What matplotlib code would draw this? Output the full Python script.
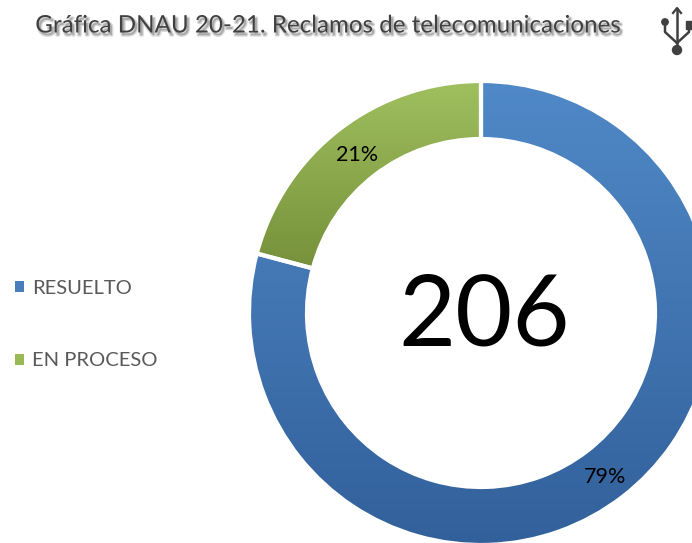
import numpy as np
import matplotlib
matplotlib.use("Agg")
from matplotlib import pyplot as plt
from matplotlib import patheffects as pe
from matplotlib.colors import LinearSegmentedColormap
from matplotlib.patches import Patch, Circle, Rectangle

title = "Gráfica DNAU 20-21. Reclamos de telecomunicaciones"
categories = ["RESUELTO", "EN PROCESO"]
counts = [163, 43]
total_label = "206"

colors_top = ["#5089c8", "#a0c05f"]
colors_bottom = ["#32609a", "#76913a"]
colors_legend = ["#4a7ebb", "#98b954"]

W, H = 692, 543
fig = plt.figure(figsize=(W / 100, H / 100), dpi=100)
ax = fig.add_axes([0, 0, 1, 1])


def yy(y):
    # pixel rows of the picture, counted from the top
    return H - y


wedges, _, autotexts = ax.pie(
    counts, center=(481, yy(313)), radius=232, startangle=90, counterclock=False,
    autopct="%1.0f%%", pctdistance=0.875,
    wedgeprops=dict(width=58, edgecolor="white", linewidth=3),
    textprops=dict(family="Lato", fontsize=15.5, color="black"))

# vertical gradient inside each wedge
for wedge, c0, c1 in zip(wedges, colors_top, colors_bottom):
    box = wedge.get_path().get_extents()
    cmap = LinearSegmentedColormap.from_list("grad", [c1, c0])
    im = ax.imshow(np.linspace(0, 1, 256)[:, None], cmap=cmap, origin="lower",
                   aspect="auto", zorder=1,
                   extent=(box.x0, box.x1, box.y0, box.y1))
    im.set_clip_path(wedge.get_path(), wedge.get_transform())
    wedge.set_facecolor("none")
    wedge.set_zorder(2)
for t in autotexts:
    t.set_zorder(3)
    px, py = t.get_position()
    t.set_position((px, py - 3))

ax.set_xlim(0, W)
ax.set_ylim(0, H)
ax.set_aspect("auto")
ax.axis("off")

ax.text(484, yy(318), total_label, ha="center", va="center", fontsize=71,
        family="Lato", color="black", zorder=4)

shadow = [pe.Stroke(linewidth=2, foreground="#aaaaaa", alpha=0.45, offset=(1.5, -2)),
          pe.Normal()]
ax.text(327.5, yy(26), title, ha="center", va="center", fontsize=17.4,
        family="Lato", color="#404040", path_effects=shadow)

handles = [Patch(facecolor=c, edgecolor="none") for c in colors_legend]
ax.legend(handles, categories, loc="upper left", bbox_to_anchor=(7 / W, yy(272) / H),
          frameon=False, prop=dict(family="Lato", size=14.5), labelcolor="#595959",
          handlelength=0.45, handleheight=0.45, handletextpad=0.4, labelspacing=2.75,
          borderpad=0.4, borderaxespad=0)

# USB mark in the top right corner
icon = "#404040"
ax.plot([677, 677], [yy(9), yy(50)], color=icon, lw=1.8)
ax.plot([673, 677, 681], [yy(13), yy(8), yy(13)], color=icon, lw=1.6)
ax.plot([665, 665, 677], [yy(22), yy(32), yy(43)], color=icon, lw=1.8)
ax.plot([689, 689, 677], [yy(25), yy(32), yy(43)], color=icon, lw=1.8)
ax.add_patch(Circle((677, yy(50)), 4.5, color=icon))
ax.add_patch(Circle((665, yy(22)), 3.2, color=icon))
ax.add_patch(Rectangle((686, yy(29)), 6, 8, color=icon))

fig.savefig("out.png", dpi=100)
